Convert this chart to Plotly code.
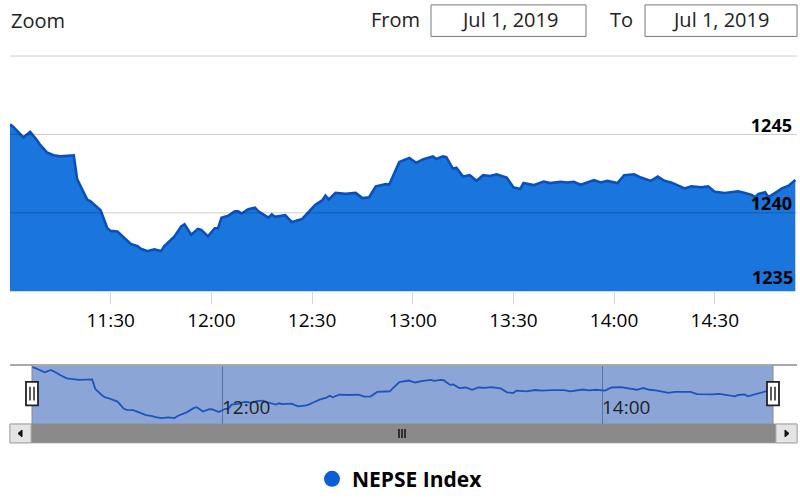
import plotly.graph_objects as go
import pandas as pd

# ---------------- data ----------------
DAY = "2019-07-01"
date_label = "Jul 1, 2019"
series_name = "NEPSE Index"

times = [
    "11:00", "11:01", "11:04", "11:06", "11:08", "11:09", "11:11", "11:13", "11:15", "11:19",
    "11:20", "11:22", "11:23", "11:24", "11:27", "11:29", "11:30", "11:32", "11:34", "11:36",
    "11:38", "11:39", "11:41", "11:43", "11:45", "11:46", "11:49", "11:51", "11:52", "11:54",
    "11:56", "11:57", "11:59", "12:01", "12:02", "12:03", "12:05", "12:07", "12:08", "12:09",
    "12:11", "12:13", "12:14", "12:17", "12:18", "12:19", "12:22", "12:24", "12:26", "12:27",
    "12:29", "12:31", "12:33", "12:34", "12:35", "12:37", "12:40", "12:43", "12:45", "12:47",
    "12:49", "12:52", "12:53", "12:54", "12:55", "12:56", "12:59", "13:01", "13:03", "13:06",
    "13:07", "13:09", "13:10", "13:12", "13:13", "13:15", "13:17", "13:19", "13:21", "13:23",
    "13:25", "13:28", "13:30", "13:32", "13:33", "13:36", "13:39", "13:41", "13:44", "13:46",
    "13:48", "13:50", "13:54", "13:56", "13:58", "14:01", "14:03", "14:06", "14:08", "14:11",
    "14:13", "14:15", "14:17", "14:19", "14:21", "14:23", "14:26", "14:28", "14:30", "14:33",
    "14:35", "14:37", "14:39", "14:41", "14:42", "14:43", "14:45", "14:46", "14:48", "14:50",
    "14:52", "14:54",
]

values = [
    1245.64, 1245.48, 1244.81, 1245.17, 1244.65, 1244.33, 1243.85, 1243.67, 1243.60, 1243.67,
    1242.15, 1241.21, 1240.85, 1240.73, 1240.17, 1239.02, 1238.85, 1238.81, 1238.44, 1238.02,
    1237.88, 1237.71, 1237.56, 1237.67, 1237.56, 1237.88, 1238.50, 1239.13, 1239.27, 1238.60,
    1238.98, 1238.92, 1238.50, 1239.02, 1239.02, 1239.69, 1239.81, 1240.10, 1240.10, 1239.96,
    1240.23, 1240.33, 1240.10, 1239.69, 1239.90, 1239.75, 1239.85, 1239.40, 1239.54, 1239.60,
    1240.06, 1240.52, 1240.79, 1241.10, 1240.85, 1241.27, 1241.21, 1241.27, 1240.94, 1241.00,
    1241.69, 1241.83, 1241.80, 1242.31, 1242.73, 1243.25, 1243.50, 1243.19, 1243.40, 1243.60,
    1243.44, 1243.60, 1243.55, 1242.81, 1242.88, 1242.31, 1242.40, 1242.04, 1242.40, 1242.35,
    1242.46, 1242.25, 1241.63, 1241.52, 1241.90, 1241.77, 1242.00, 1241.90, 1241.98, 1241.94,
    1241.98, 1241.79, 1242.08, 1241.94, 1242.04, 1241.90, 1242.40, 1242.46, 1242.25, 1242.04,
    1242.31, 1242.04, 1241.94, 1241.73, 1241.56, 1241.69, 1241.63, 1241.69, 1241.35, 1241.27,
    1241.31, 1241.38, 1241.27, 1241.15, 1241.00, 1241.21, 1241.31, 1241.00, 1241.27, 1241.56,
    1241.73, 1242.10,
]
assert len(times) == len(values)

x_tick_labels = ["11:30", "12:00", "12:30", "13:00", "13:30", "14:00", "14:30"]
nav_tick_labels = ["12:00", "14:00"]
y_ticks = [1235, 1240, 1245, 1250]
y_tick_text = ["1235", "1240", "1245", ""]
x_range_end = "14:54:30"

# ---------------- styling helpers ----------------
W, H = 800, 500
FONT = "Open Sans"
LINE = "#0a50bd"
FILL = "rgb(26,117,220)"


def px(xp):
    return xp / W


def py(yp):
    return (H - yp) / H


x = pd.to_datetime([f"{DAY} {t}" for t in times])
x_ticks = [f"{DAY} {t}" for t in x_tick_labels]
nav_ticks = [f"{DAY} {t}" for t in nav_tick_labels]

fig = go.Figure()

# main area series
fig.add_trace(go.Scatter(
    x=x, y=values, mode="lines", fill="tozeroy",
    line=dict(color=LINE, width=2.6), fillcolor=FILL,
    xaxis="x", yaxis="y", showlegend=False, hoverinfo="x+y",
))

# navigator series
fig.add_trace(go.Scatter(
    x=x, y=values, mode="lines",
    line=dict(color="#1a55bf", width=1.8),
    xaxis="x2", yaxis="y2", showlegend=False, hoverinfo="skip",
))

# legend entry
fig.add_trace(go.Scatter(
    x=[None], y=[None], mode="markers", name=series_name,
    marker=dict(color="#0b5ed7", size=16, symbol="circle"),
    xaxis="x", yaxis="y", showlegend=True,
))

shapes = []
# y grid lines drawn semi-transparent above the area (as in the source chart)
for yv in y_ticks[1:]:
    shapes.append(dict(type="line", xref="x domain", yref="y", x0=0, x1=1, y0=yv, y1=yv,
                       line=dict(color="rgba(0,0,0,0.2)", width=1), layer="above"))
# navigator mask
shapes.append(dict(type="rect", xref="x2 domain", yref="y2 domain", x0=0, x1=1, y0=0, y1=1,
                   fillcolor="#8ca5d7", line=dict(width=0), layer="below"))
# navigator outline (top)
shapes.append(dict(type="line", xref="paper", yref="paper", x0=px(10), x1=px(797),
                   y0=py(371), y1=py(371), line=dict(color="#a9a9a9", width=2)))
shapes.append(dict(type="line", xref="x2 domain", yref="y2 domain", x0=0, x1=0, y0=0, y1=1,
                   line=dict(color="#8a8a8a", width=1)))
shapes.append(dict(type="line", xref="x2 domain", yref="y2 domain", x0=1, x1=1, y0=0, y1=1,
                   line=dict(color="#8a8a8a", width=1)))
# scrollbar
shapes.append(dict(type="rect", xref="paper", yref="paper", x0=px(10), x1=px(797),
                   y0=py(450), y1=py(431), fillcolor="#8a8a8a", line=dict(color="#8a8a8a", width=1)))
for bx0, bx1 in [(10, 31), (776, 797)]:
    shapes.append(dict(type="rect", xref="paper", yref="paper", x0=px(bx0), x1=px(bx1),
                       y0=py(450), y1=py(431), fillcolor="#e4e4e4", line=dict(color="#b0b0b0", width=1)))
# arrows
shapes.append(dict(type="path", xref="paper", yref="paper",
                   path=f"M {px(18)},{py(440.5)} L {px(22)},{py(437)} L {px(22)},{py(444)} Z",
                   fillcolor="#111", line=dict(color="#111", width=1)))
shapes.append(dict(type="path", xref="paper", yref="paper",
                   path=f"M {px(789)},{py(440.5)} L {px(785)},{py(437)} L {px(785)},{py(444)} Z",
                   fillcolor="#111", line=dict(color="#111", width=1)))
# grip
for gx in (399, 402, 405):
    shapes.append(dict(type="line", xref="paper", yref="paper", x0=px(gx), x1=px(gx),
                       y0=py(436), y1=py(445), line=dict(color="#111", width=1.5)))
# handles
for hc in (32, 773):
    shapes.append(dict(type="rect", xref="paper", yref="paper", x0=px(hc - 6), x1=px(hc + 6),
                       y0=py(412), y1=py(388), fillcolor="white", line=dict(color="#222", width=1.8)))
    for off in (-2, 2):
        shapes.append(dict(type="line", xref="paper", yref="paper", x0=px(hc + off), x1=px(hc + off),
                           y0=py(393), y1=py(407), line=dict(color="#222", width=1.5)))
# range selector input boxes
for bx0, bx1 in [(431, 586), (645, 797)]:
    shapes.append(dict(type="rect", xref="paper", yref="paper", x0=px(bx0), x1=px(bx1),
                       y0=py(37), y1=py(5), fillcolor="white", line=dict(color="#777", width=1)))

hdr = dict(family=FONT, size=20, color="#222")
ylab_font = dict(family=FONT, size=18, color="#000", weight="bold")
annotations = [
    dict(text="Zoom", x=px(9), y=py(21), xref="paper", yref="paper", xanchor="left",
         yanchor="middle", showarrow=False, font=hdr),
    dict(text="From", x=px(395), y=py(20), xref="paper", yref="paper", xanchor="center",
         yanchor="middle", showarrow=False, font=hdr),
    dict(text=date_label, x=px(509), y=py(20), xref="paper", yref="paper", xanchor="center",
         yanchor="middle", showarrow=False, font=hdr),
    dict(text="To", x=px(621), y=py(20), xref="paper", yref="paper", xanchor="center",
         yanchor="middle", showarrow=False, font=hdr),
    dict(text=date_label, x=px(720), y=py(20), xref="paper", yref="paper", xanchor="center",
         yanchor="middle", showarrow=False, font=hdr),
    # lowest y tick label (plotly hides inside labels sitting on the plot edge)
    dict(text=y_tick_text[0], x=1, y=y_ticks[0], xref="x domain", yref="y",
         xanchor="right", yanchor="bottom", xshift=-2, showarrow=False, font=ylab_font),
]

fig.update_layout(
    width=W, height=H, autosize=False,
    margin=dict(l=0, r=0, t=0, b=0),
    paper_bgcolor="white", plot_bgcolor="white",
    font=dict(family=FONT, color="#111"),
    shapes=shapes, annotations=annotations,
    dragmode=False,
    xaxis=dict(
        domain=[px(10), px(797)], anchor="y", type="date",
        range=[f"{DAY} {times[0]}", f"{DAY} {x_range_end}"],
        tickvals=x_ticks, ticktext=x_tick_labels,
        ticks="outside", ticklen=12, tickwidth=1, tickcolor="#ccd6eb",
        showgrid=False, showline=False, zeroline=False,
        tickfont=dict(family=FONT, size=19, color="#000"),
    ),
    yaxis=dict(
        domain=[py(296), py(56)], anchor="x", side="right",
        range=[y_ticks[0], y_ticks[-1] + 0.06],
        tickvals=y_ticks, ticktext=["", y_tick_text[1], y_tick_text[2], y_tick_text[3]],
        ticklabelposition="inside", ticklabelshift=-9, ticklabelstandoff=2, ticks="",
        showgrid=False,
        showline=False, zeroline=False,
        tickfont=ylab_font,
    ),
    xaxis2=dict(
        domain=[px(32), px(773)], anchor="y2", type="date",
        range=[x[0], x[-1]],
        tickvals=nav_ticks, ticktext=nav_tick_labels,
        ticklabelposition="inside right", ticks="",
        showgrid=True, gridcolor="#61709a", gridwidth=1,
        showline=False, zeroline=False,
        tickfont=dict(family=FONT, size=19, color="#222"),
    ),
    yaxis2=dict(
        domain=[py(431), py(371)], anchor="x2",
        range=[1236.6, 1245.95],
        showgrid=False, showticklabels=False, zeroline=False, showline=False, ticks="",
    ),
    legend=dict(
        orientation="h", x=px(312), xanchor="left", y=py(487), yanchor="middle",
        font=dict(family=FONT, size=21, color="#000", weight="bold"),
        bgcolor="rgba(0,0,0,0)",
    ),
)

fig.write_html("out.html")
